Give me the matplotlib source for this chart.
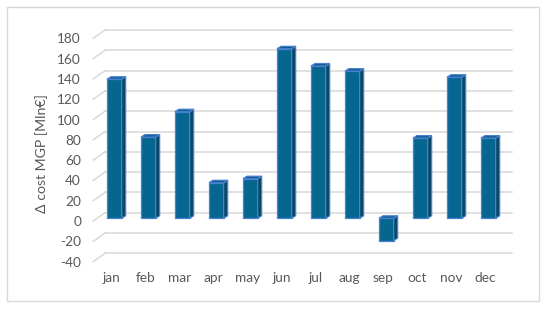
import matplotlib
matplotlib.use("Agg")
import matplotlib.pyplot as plt
import matplotlib.transforms as mtransforms
from matplotlib.patches import Polygon, Rectangle

months = ["jan", "feb", "mar", "apr", "may", "jun", "jul", "aug", "sep", "oct", "nov", "dec"]
values = [137, 80, 105, 35, 39, 167, 150, 145, -22, 79, 139, 79]
yticks = [-40, -20, 0, 20, 40, 60, 80, 100, 120, 140, 160, 180]
ylabel = "Δ cost MGP [Mln€]"

plt.rcParams['font.family'] = ['Lato', 'DejaVu Sans']
W, H = 550, 311
fig = plt.figure(figsize=(5.5, 3.11), dpi=100)
fig.patch.set_facecolor("white")

# axes geometry in pixels (from top-left)
ax_l, ax_r, ax_t, ax_b = 90, 520, 20, 270
ax = fig.add_axes([ax_l / W, 1 - ax_b / H, (ax_r - ax_l) / W, (ax_b - ax_t) / H])
px_per_cat = 34.0
x0_px = 114.3
px_per_unit = 1.015
zero_px = 218.3
ax.set_xlim((ax_l - x0_px) / px_per_cat, (ax_r - x0_px) / px_per_cat)
ax.set_ylim((zero_px - ax_b) / px_per_unit, (zero_px - ax_t) / px_per_unit)
for s in ax.spines.values():
    s.set_visible(False)
ax.patch.set_alpha(0)

grid_col = "#d9d9d9"
back = mtransforms.offset_copy(ax.transData, fig=fig, x=0, y=5.6, units='dots')
front = mtransforms.offset_copy(ax.transData, fig=fig, x=0, y=-2.7, units='dots')
gx0 = (105 - x0_px) / px_per_cat
gx1 = (512 - x0_px) / px_per_cat
dx0 = (93.3 - x0_px) / px_per_cat
for v in yticks:
    ax.plot([gx0, gx1], [v, v], color=grid_col, lw=1.1, transform=back, zorder=1)
    p_front = front.transform((dx0, v))
    p_back = back.transform((gx0, v))
    ax.plot([p_front[0], p_back[0]], [p_front[1], p_back[1]], color=grid_col, lw=1.1,
            transform=None, zorder=1)

# bars
w = 14.7 / px_per_cat
ddx = 4.0 / px_per_cat
ddy = 2.5 / px_per_unit
face_col = "#05668f"
side_col = "#0a4868"
top_col = "#0b5d86"
edge_col = "#4a80d4"
xs = list(range(len(months)))
ax.bar(xs, values, width=w, color=face_col, edgecolor=edge_col, linewidth=0.9, zorder=3)
for x, v in zip(xs, values):
    xl, xr = x - w / 2, x + w / 2
    ytop = max(v, 0)
    ybot = min(v, 0)
    side = Polygon([(xr, ybot), (xr + ddx, ybot + ddy), (xr + ddx, ytop + ddy), (xr, ytop)],
                   closed=True, facecolor=side_col, edgecolor=edge_col, lw=0.9, zorder=3)
    top = Polygon([(xl, ytop), (xl + ddx, ytop + ddy), (xr + ddx, ytop + ddy), (xr, ytop)],
                  closed=True, facecolor=top_col, edgecolor=edge_col, lw=0.9, zorder=3)
    ax.add_patch(side)
    ax.add_patch(top)

txt_col = "#595959"
ax.set_yticks(yticks)
ax.set_yticklabels([str(t) for t in yticks], fontsize=9.8, color=txt_col)
ax.tick_params(axis='y', length=0, pad=(ax_l - 81) * 0.72)
for lab in ax.get_yticklabels():
    lab.set_transform(lab.get_transform() + mtransforms.ScaledTranslation(0, -2.7 / 100, fig.dpi_scale_trans))

ax.set_xticks(xs)
ax.set_xticklabels(months, fontsize=9.8, color=txt_col)
ax.tick_params(axis='x', length=0, pad=1.5)
for lab in ax.get_xticklabels():
    lab.set_transform(lab.get_transform() + mtransforms.ScaledTranslation(-3 / 100, 0, fig.dpi_scale_trans))

fig.text(42 / W, 1 - 154 / H, ylabel, rotation=90, ha='center', va='center',
         fontsize=10.2, color=txt_col)

fig.patches.append(Rectangle((7 / W, 1 - 301 / H), (539 - 7) / W, (301 - 7) / H,
                             transform=fig.transFigure, fill=False, edgecolor=grid_col, lw=1.0))

fig.savefig("out.png", dpi=100)
